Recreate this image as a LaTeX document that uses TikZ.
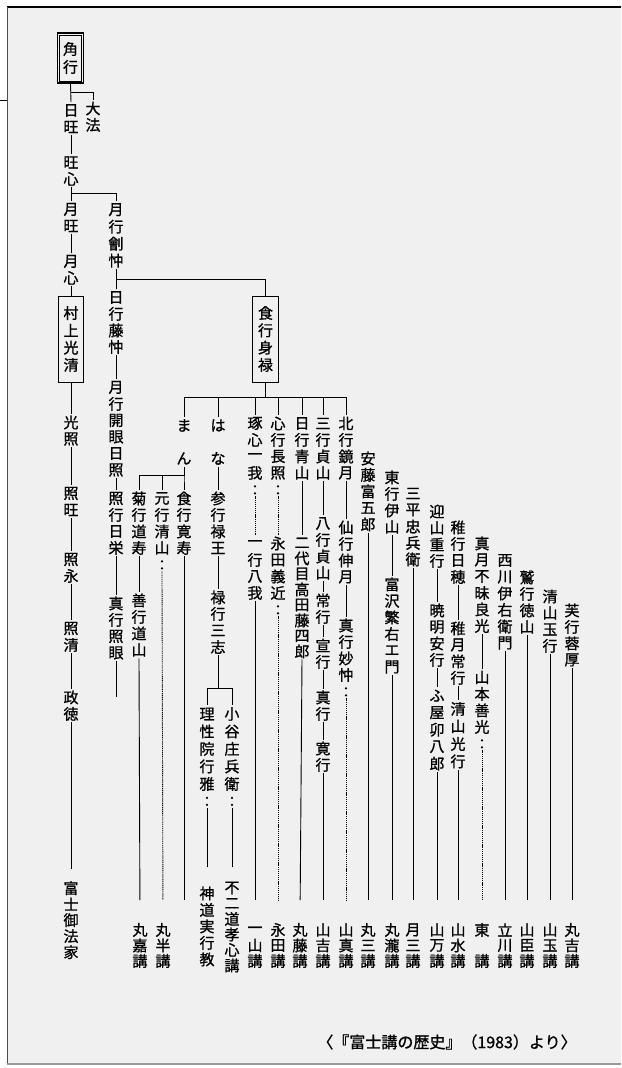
\documentclass[tikz,border=0pt]{standalone}
\usepackage{fontspec}
\newfontfamily\jp{Noto Sans CJK JP}[FakeBold=1]
\usetikzlibrary{calc}
\ExplSyntaxOn
\NewDocumentCommand\vtext{O{16.5}m}{
  \vbox{\offinterlineskip
    \tl_map_inline:nn {#2}{\vbox to #1pt{\vss\hbox to 15pt{\hss ##1\hss}\vss}}
  }
}
\ExplSyntaxOff
\newcommand\twodots[1]{\fill ([yshift=-5pt]#1.south) circle[radius=1.2pt] ([yshift=-12pt]#1.south) circle[radius=1.2pt];}
\begin{document}
\begin{tikzpicture}[x=1pt,y=-1pt,
  vt/.style={inner sep=0pt, anchor=north, font=\jp\fontsize{15}{15}\selectfont},
  namebox/.style={draw, line width=0.9pt, inner xsep=5.3pt, anchor=center, font=\jp\fontsize{15}{15}\selectfont},
  ln/.style={line width=0.9pt},
  dl/.style={line width=0.9pt, dash pattern=on 1.1pt off 0.8pt},
  ko/.style={vt},
]
\useasboundingbox (0,0) rectangle (621,1068);
\fill[black!6] (7,7) rectangle (621,1064);
\draw[line width=1.3pt] (7,7) -- (621,7);
\draw[line width=0.8pt, black!70] (7,7) -- (7,1064);
\draw[line width=0.8pt] (0,100) -- (7,100);
\draw[line width=1.5pt, black!40] (7,1064) -- (621,1064);

% ---------- main column ----------
\node[namebox, inner ysep=7pt, line width=1.5pt] (kaku) at (70.5,58) {\vtext[18]{角行}};
\draw[line width=0.6pt] ([shift={(2.7,2.7)}]kaku.north west) rectangle ([shift={(-2.7,-2.7)}]kaku.south east);
\node[vt] (niti) at (71,102) {\vtext{日旺}};
\node[vt] (taiho) at (93,100) {\vtext{大法}};
\node[vt] (oshin) at (71,154) {\vtext{旺心}};
\node[vt] (getsuji) at (71,201) {\vtext{月旺}};
\node[vt] (gesshin) at (71,253) {\vtext{月心}};
\node[namebox, inner ysep=8.4pt] (kosei) at (71,339) {\vtext[17.3]{村上光清}};
\node[vt] (kosho) at (71,414) {\vtext{光照}};
\node[vt] (shoo) at (71,485) {\vtext{照旺}};
\node[vt] (shoei) at (71,551) {\vtext{照永}};
\node[vt] (shosei) at (71,620) {\vtext{照清}};
\node[vt] (seitoku) at (71,689) {\vtext{政徳}};
\node[vt] (fuji) at (71,880) {\vtext[16]{富士御法家}};

% ---------- column B ----------
\node[vt] (gatsu) at (116,201) {\vtext[17]{月行劊忡}};
\node[vt] (nichigyo) at (116,289) {\vtext{日行藤忡}};
\node[vt] (kaigen) at (116,379) {\vtext{月行開眼日照}};
\node[vt] (shogyo) at (116,490) {\vtext{照行日栄}};
\node[vt] (shingyo) at (116,595) {\vtext{真行照眼}};
\coordinate (shingyoend) at (116,697);

\node[namebox, inner ysep=8.4pt] (jiki) at (265.5,339) {\vtext[17.3]{食行身禄}};

% ---------- children of jiki ----------
\node[vt] (man) at (184,417) {\vtext{ま　ん}};
\node[vt] (hana) at (218,417) {\vtext{は　な}};
\node[vt] (taku) at (255,415) {\vtext{琢心一我}};
\node[vt] (shin) at (278,415) {\vtext{心行長照}};
\node[vt] (seizan) at (302,415) {\vtext{日行青山}};
\node[vt] (teizan) at (323,415) {\vtext{三行貞山}};
\node[vt] (hoku) at (346,415) {\vtext{北行鏡月}};

\node[vt] (kiku) at (139,490) {\vtext{菊行道寿}};
\node[vt] (zengyo) at (139,592) {\vtext{善行道山}};
\node[vt] (gen) at (162,490) {\vtext{元行清山}};
\node[vt] (kanju) at (184,490) {\vtext{食行寛寿}};
\coordinate (kanjuend) at (184,900);

\node[vt] (sangyo) at (218,490) {\vtext{参行禄王}};
\node[vt] (rokugyo) at (218,589) {\vtext{禄行三志}};
\node[vt] (risei) at (207,705) {\vtext[17.5]{理性院行雅}};
\node[vt] (kotani) at (232,705) {\vtext[17.5]{小谷庄兵衛}};

\node[vt] (ichigyo) at (255,535) {\vtext{一行八我}};
\node[vt] (nagata) at (278,535) {\vtext{永田義近}};
\node[vt] (nidaime) at (302,535) {\vtext[15.5]{二代目高田藤四郎}};
\node[vt] (hachigyo) at (323,515) {\vtext{八行貞山}};
\node[vt] (jogyo) at (323,592) {\vtext{常行}};
\node[vt] (sengyo) at (323,637) {\vtext{宣行}};
\node[vt] (shingyob) at (323,689) {\vtext{真行}};
\node[vt] (kangyo) at (323,740) {\vtext{寛行}};
\node[vt] (sengyob) at (346,519) {\vtext{仙行伸月}};
\node[vt] (myochu) at (346,617) {\vtext{真行妙忡}};

% ---------- staircase ----------
\node[vt] (ando) at (368,450) {\vtext{安藤富五郎}};
\node[vt] (togyo) at (392,469) {\vtext{東行伊山}};
\node[vt] (tomizawa) at (392,576) {\vtext{富沢繁右エ門}};
\node[vt] (sanpei) at (413,485) {\vtext{三平忠兵衛}};
\node[vt] (geizan) at (437,503) {\vtext{迎山重行}};
\node[vt] (gyomei) at (437,602) {\vtext{暁明安行}};
\node[vt] (fuya) at (437,687) {\vtext[17]{ふ屋卯八郎}};
\node[vt] (chigyo) at (458,519) {\vtext{稚行日穂}};
\node[vt] (chigetsu) at (458,620) {\vtext{稚月常行}};
\node[vt] (kiyoyama) at (458,700) {\vtext[17.5]{清山光行}};
\node[vt] (shingetsu) at (482,535) {\vtext{真月不昧良光}};
\node[vt] (yamamoto) at (482,669) {\vtext{山本善光}};
\node[vt] (nishikawa) at (505,552) {\vtext{西川伊右衛門}};
\node[vt] (washi) at (527,569) {\vtext{鷲行徳山}};
\node[vt] (seizanc) at (550,588) {\vtext{清山玉行}};
\node[vt] (fuyo) at (572,602) {\vtext{芙行蓉厚}};

% ---------- bottom ko ----------
\node[vt] (shinto) at (207,885) {\vtext{神道実行教}};
\node[vt] (fujido) at (232,880) {\vtext[15.5]{不二道孝心講}};
\node[ko] (maruka) at (140,922) {\vtext[15.5]{丸嘉講}};
\node[ko] (maruhan) at (163,922) {\vtext[15.5]{丸半講}};
\node[ko] (ichiyama) at (255,922) {\vtext[15.5]{一山講}};
\node[ko] (nagatako) at (278,922) {\vtext[15.5]{永田講}};
\node[ko] (maruto) at (300,922) {\vtext[15.5]{丸藤講}};
\node[ko] (yamayoshi) at (323,922) {\vtext[15.5]{山吉講}};
\node[ko] (yamashin) at (346,922) {\vtext[15.5]{山真講}};
\node[ko] (marusan) at (368,922) {\vtext[15.5]{丸三講}};
\node[ko] (marutaki) at (392,922) {\vtext[15.5]{丸瀧講}};
\node[ko] (tsukisan) at (413,922) {\vtext[15.5]{月三講}};
\node[ko] (yamaman) at (437,922) {\vtext[15.5]{山万講}};
\node[ko] (yamamizu) at (458,922) {\vtext[15.5]{山水講}};
\node[ko] (azuma) at (482,922) {\vtext[15.5]{東　講}};
\node[ko] (tachikawa) at (505,922) {\vtext[15.5]{立川講}};
\node[ko] (yamaomi) at (527,922) {\vtext[15.5]{山臣講}};
\node[ko] (yamatama) at (550,922) {\vtext[15.5]{山玉講}};
\node[ko] (maruyoshi) at (572,922) {\vtext[15.5]{丸吉講}};

\node[font=\jp\fontsize{16}{16}\selectfont, inner sep=0pt] (src) at (447,1042) {〈『富士講の歴史』（1983）より〉};

% ---------- connectors ----------
\draw[ln] (kaku.south) -- (niti.north);
\draw[ln] (kaku.south |- 0,92) -| (taiho.north);
\draw[ln] (niti.south) -- (oshin.north);
\draw[ln] (oshin.south) -- (getsuji.north);
\draw[ln] (oshin.south |- 0,193) -| (gatsu.north);
\draw[ln] (getsuji.south) -- (gesshin.north);
\draw[ln] (gesshin.south) -- (kosei.north);
\draw[ln] (kosei.south) -- (kosho.north);
\draw[ln] (kosho.south) -- (shoo.north);
\draw[ln] (shoo.south) -- (shoei.north);
\draw[ln] (shoei.south) -- (shosei.north);
\draw[ln] (shosei.south) -- (seitoku.north);
\draw[ln, shorten >=11pt] (seitoku.south) -- (fuji.north);

\draw[ln] (gatsu.south) -- (nichigyo.north);
\draw[ln] (gatsu.south |- 0,279) -| (jiki.north);
\draw[ln] (nichigyo.south) -- (kaigen.north);
\draw[ln] (kaigen.south) -- (shogyo.north);
\draw[ln] (shogyo.south) -- (shingyo.north);
\draw[ln] (shingyo.south) -- (shingyoend);

\foreach \c in {man,hana,taku,shin,seizan,teizan,hoku}
  \draw[ln] (jiki.south) -- (jiki.south |- 0,397) -| (\c.north);
\foreach \c in {kiku,gen,kanju}
  \draw[ln] (man.south) -- (man.south |- 0,475) -| (\c.north);

\draw[ln] (kiku.south) -- (zengyo.north);
\draw[ln, shorten >=22pt] (zengyo.south) -- (maruka.north);
\twodots{gen}
\draw[dl, shorten >=22pt] ([yshift=-15pt]gen.south) -- (maruhan.north);
\draw[ln] (kanju.south) -- (kanjuend);

\draw[ln] (hana.south) -- (sangyo.north);
\draw[ln] (sangyo.south) -- (rokugyo.north);
\foreach \c in {risei,kotani}
  \draw[ln] (rokugyo.south) -- (rokugyo.south |- 0,688) -| (\c.north);
\twodots{risei}
\twodots{kotani}
\draw[ln, shorten >=18pt] ([yshift=-15pt]risei.south) -- (shinto.north);
\draw[ln, shorten >=13pt] ([yshift=-15pt]kotani.south) -- (fujido.north);

\twodots{taku}
\draw[dl] ([yshift=-15pt]taku.south) -- (ichigyo.north);
\draw[ln, shorten >=22pt] (ichigyo.south) -- (ichiyama.north);
\twodots{shin}
\draw[dl] ([yshift=-15pt]shin.south) -- (nagata.north);
\twodots{nagata}
\draw[dl, shorten >=22pt] ([yshift=-15pt]nagata.south) -- (nagatako.north);
\draw[ln] (seizan.south) -- (nidaime.north);
\draw[ln, shorten >=22pt] (nidaime.south) -- (maruto.north);
\draw[ln] (teizan.south) -- (hachigyo.north);
\draw[ln] (hachigyo.south) -- (jogyo.north);
\draw[ln] (jogyo.south) -- (sengyo.north);
\draw[ln] (sengyo.south) -- (shingyob.north);
\draw[ln] (shingyob.south) -- (kangyo.north);
\draw[ln, shorten >=22pt] (kangyo.south) -- (yamayoshi.north);
\draw[ln] (hoku.south) -- (sengyob.north);
\draw[ln] (sengyob.south) -- (myochu.north);
\twodots{myochu}
\draw[dl, shorten >=22pt] ([yshift=-15pt]myochu.south) -- (yamashin.north);

\draw[ln, shorten >=22pt] (ando.south) -- (marusan.north);
\draw[ln] (togyo.south) -- (tomizawa.north);
\draw[ln, shorten >=22pt] (tomizawa.south) -- (marutaki.north);
\draw[ln, shorten >=22pt] (sanpei.south) -- (tsukisan.north);
\draw[ln] (geizan.south) -- (gyomei.north);
\draw[ln] (gyomei.south) -- (fuya.north);
\draw[ln, shorten >=22pt] (fuya.south) -- (yamaman.north);
\draw[ln] (chigyo.south) -- (chigetsu.north);
\draw[ln] (chigetsu.south) -- (kiyoyama.north);
\draw[ln, shorten >=22pt] (kiyoyama.south) -- (yamamizu.north);
\draw[ln] (shingetsu.south) -- (yamamoto.north);
\twodots{yamamoto}
\draw[dl, shorten >=22pt] ([yshift=-15pt]yamamoto.south) -- (azuma.north);
\draw[ln, shorten >=22pt] (nishikawa.south) -- (tachikawa.north);
\draw[ln, shorten >=22pt] (washi.south) -- (yamaomi.north);
\draw[ln, shorten >=22pt] (seizanc.south) -- (yamatama.north);
\draw[ln, shorten >=22pt] (fuyo.south) -- (maruyoshi.north);
\end{tikzpicture}
\end{document}
